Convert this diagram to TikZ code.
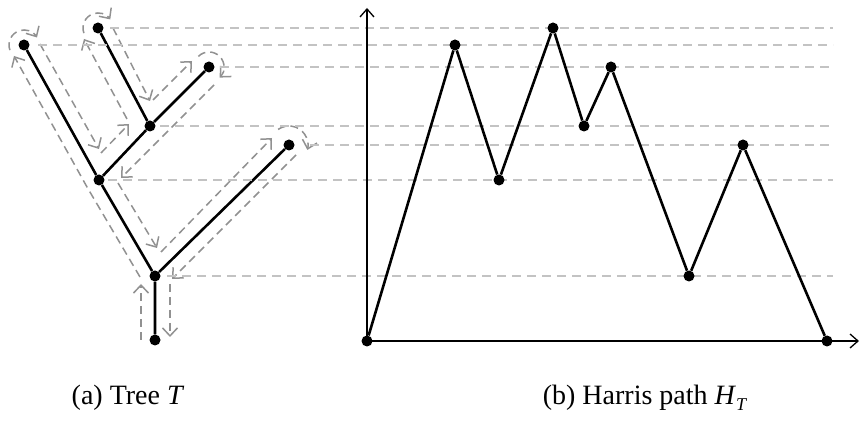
\documentclass[tikz,border=0pt]{standalone}
\usepackage{fontspec}
\setmainfont{Liberation Serif}
\usetikzlibrary{arrows.meta,calc}
\definecolor{ContourGray}{RGB}{145,145,145}
\definecolor{GuideGray}{RGB}{195,195,195}
\tikzset{
  vertex/.style={circle,fill=black,inner sep=0pt,minimum size=11pt},
  edge/.style={line width=2.6pt,black},
  contour/.style={ContourGray,line width=1.5pt,dash pattern=on 8pt off 5pt,
    -{Straight Barb[length=8pt,width=15pt]}},
  guide/.style={GuideGray,line width=1.4pt,dash pattern=on 9pt off 6pt},
  axis/.style={line width=1.3pt,-{Straight Barb[length=8pt,width=14pt]}},
  caption/.style={font=\fontsize{28}{34}\selectfont}
}

\begin{document}
\begin{tikzpicture}[x=1pt,y=-1pt]
  \useasboundingbox (0,0) rectangle (860,427);
  % Tree T
  \node[vertex] (r)  at (155,340) {};
  \node[vertex] (a)  at (155,276) {};
  \node[vertex] (b)  at (99,180) {};
  \node[vertex] (l1) at (24,45) {};
  \node[vertex] (c)  at (150,126) {};
  \node[vertex] (l2) at (98,28) {};
  \node[vertex] (l3) at (209,67) {};
  \node[vertex] (l4) at (289,145) {};
  \draw[edge] (r) -- (a) -- (b) -- (l1);
  \draw[edge] (b) -- (c) -- (l2);
  \draw[edge] (c) -- (l3);
  \draw[edge] (a) -- (l4);
  % Contour walk round T
  \draw[contour] (141,340) -- (141,284);
  \draw[contour] (140,277) -- (87,187) -- (14,56);
  \draw[contour] ($(l1)+(160:15)$) arc[start angle=160,end angle=330,radius=15];
  \draw[contour] (40,44) -- (99,149);
  \draw[contour] (101,153) -- (129,124);
  \draw[contour] (127,119) -- (84,39);
  \draw[contour] ($(l2)+(160:15)$) arc[start angle=160,end angle=325,radius=15];
  \draw[contour] (113,28) -- (150,101);
  \draw[contour] (153,100) -- (192,61);
  \draw[contour] ($(l3)+(225:15)$) arc[start angle=225,end angle=405,radius=15];
  \draw[contour] (214,85) -- (121,178);
  \draw[contour] (118,183) -- (157,248);
  \draw[contour] (161,252) -- (272,138);
  \draw[contour] ($(l4)+(235:19)$) arc[start angle=235,end angle=375,radius=19];
  \draw[contour] (296,155) -- (172,279);
  \draw[contour] (170,284) -- (170,337);
  % Height guides
  \coordinate (gend) at (833,0);
  \foreach \v/\s in {l2/12,l1/14,l3/11,c/10,l4/21,b/9,a/12}
    \draw[guide] ([xshift=\s pt]\v.center) -- (\v -| gend);
  % Harris path H_T
  \coordinate (o) at (367,341);
  \draw[axis] (o) -- (367,8);
  \draw[axis] (o) -- (859,341);
  \node[vertex] (h0) at (o) {};
  \node[vertex] (h1) at (455,45) {};
  \node[vertex] (h2) at (499,180) {};
  \node[vertex] (h3) at (553,28) {};
  \node[vertex] (h4) at (584,126) {};
  \node[vertex] (h5) at (611,67) {};
  \node[vertex] (h6) at (689,276) {};
  \node[vertex] (h7) at (743,145) {};
  \node[vertex] (h8) at (827,341) {};
  \draw[edge] (h0) -- (h1) -- (h2) -- (h3) -- (h4) -- (h5) -- (h6) -- (h7) -- (h8);
  % Captions
  \node[caption] (capa) at (128,398) {(a) Tree \textit{T}};
  \node[caption] (capb) at (645,398) {(b) Harris path
    \textit{H}\raisebox{-0.2em}{\fontsize{18}{20}\selectfont\textit{T}}};
\end{tikzpicture}
\end{document}
